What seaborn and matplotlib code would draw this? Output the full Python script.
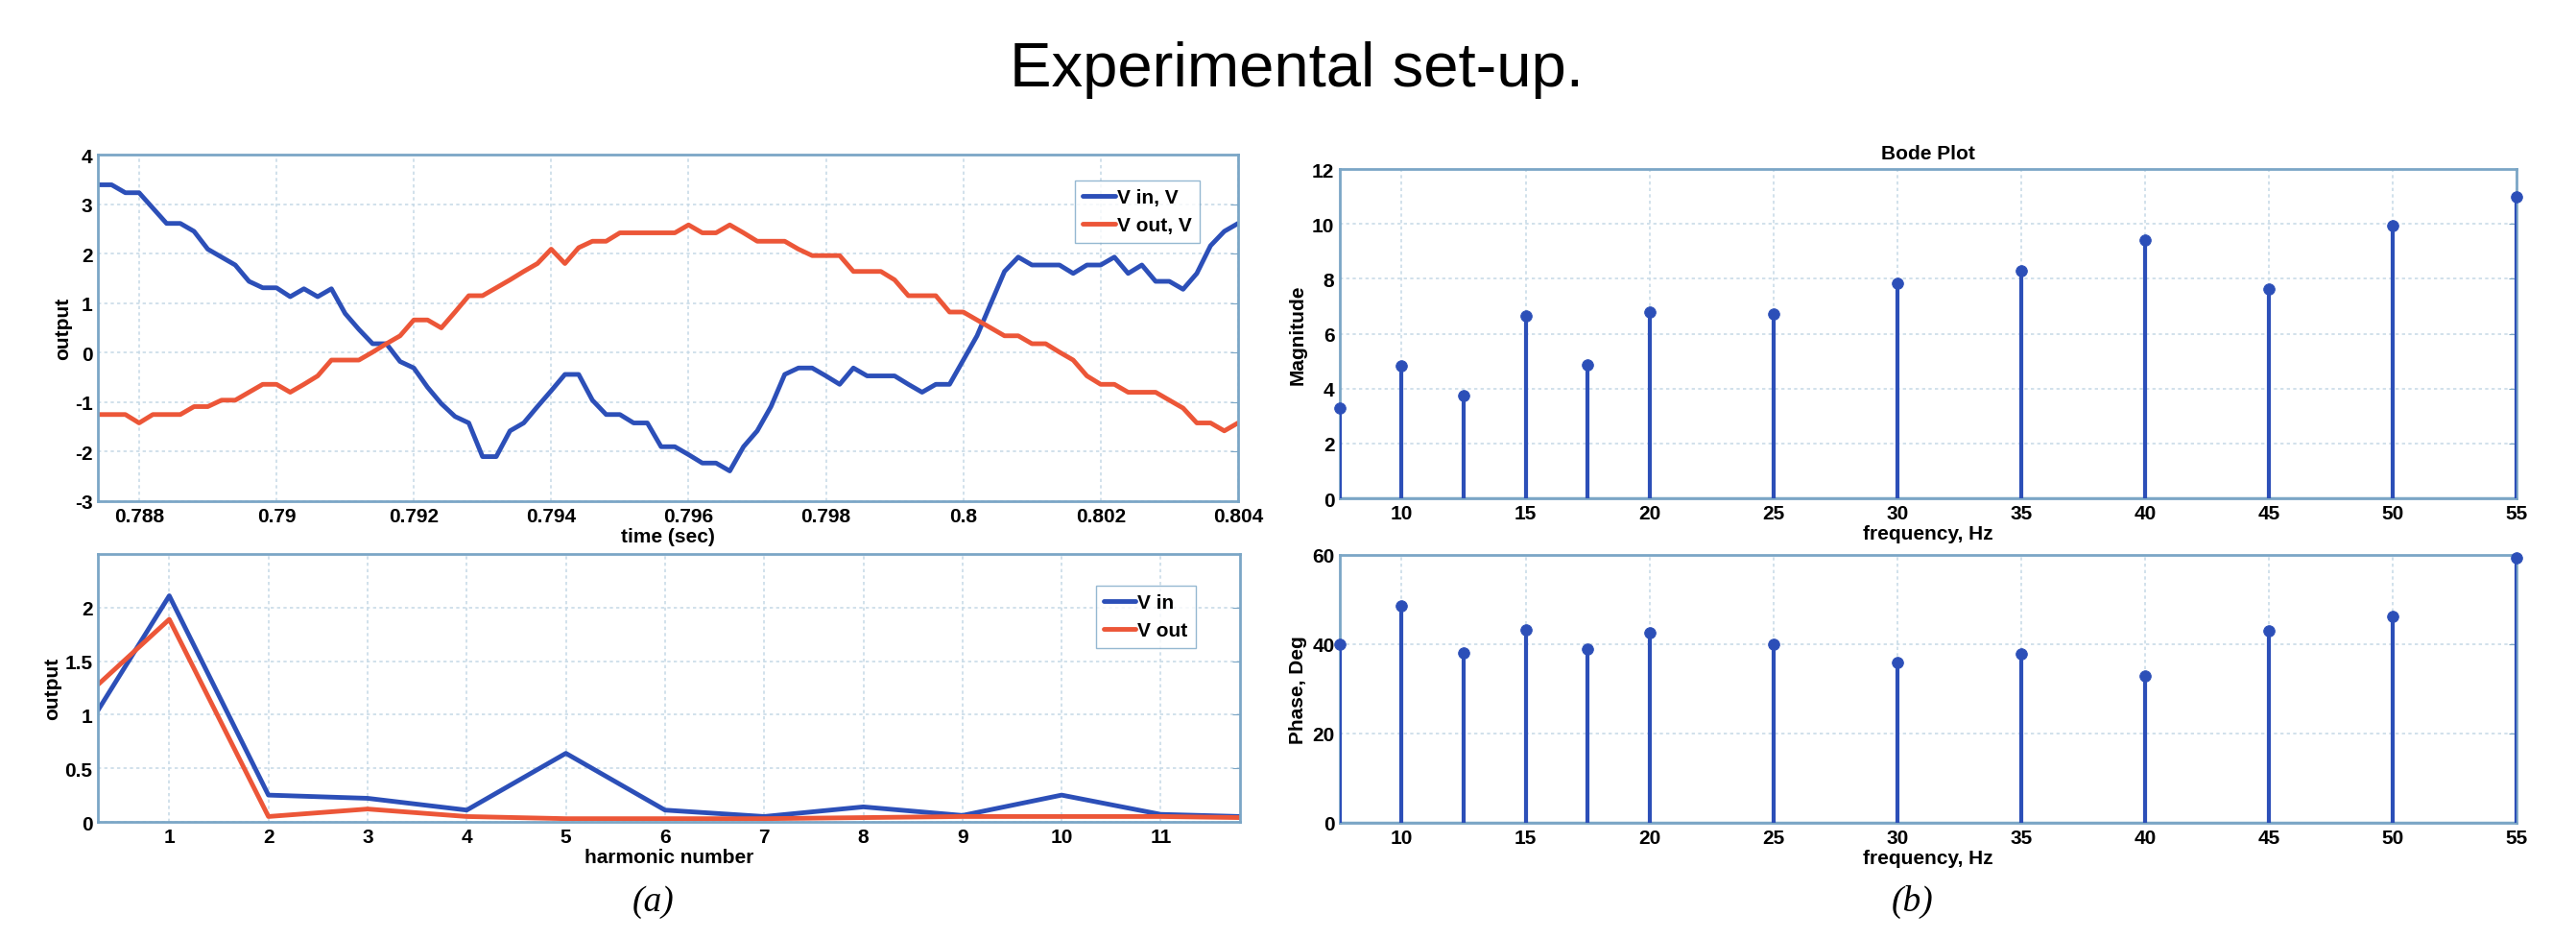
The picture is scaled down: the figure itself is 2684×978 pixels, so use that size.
import seaborn as sns
import matplotlib.pyplot as plt
import pandas as pd

# --- data ---
t_sec = [0.7874, 0.7876, 0.7878, 0.7880, 0.7882, 0.7884, 0.7886, 0.7888, 0.7890, 0.7892,
         0.7894, 0.7896, 0.7898, 0.7900, 0.7902, 0.7904, 0.7906, 0.7908, 0.7910, 0.7912,
         0.7914, 0.7916, 0.7918, 0.7920, 0.7922, 0.7924, 0.7926, 0.7928, 0.7930, 0.7932,
         0.7934, 0.7936, 0.7938, 0.7940, 0.7942, 0.7944, 0.7946, 0.7948, 0.7950, 0.7952,
         0.7954, 0.7956, 0.7958, 0.7960, 0.7962, 0.7964, 0.7966, 0.7968, 0.7970, 0.7972,
         0.7974, 0.7976, 0.7978, 0.7980, 0.7982, 0.7984, 0.7986, 0.7988, 0.7990, 0.7992,
         0.7994, 0.7996, 0.7998, 0.8000, 0.8002, 0.8004, 0.8006, 0.8008, 0.8010, 0.8012,
         0.8014, 0.8016, 0.8018, 0.8020, 0.8022, 0.8024, 0.8026, 0.8028, 0.8030, 0.8032,
         0.8034, 0.8036, 0.8038, 0.8040]
v_in = [3.39, 3.39, 3.23, 3.23, 2.92, 2.61, 2.61, 2.45, 2.09, 1.93,
        1.77, 1.44, 1.31, 1.31, 1.13, 1.29, 1.13, 1.29, 0.79, 0.47,
        0.18, 0.18, -0.18, -0.31, -0.70, -1.03, -1.29, -1.42, -2.10, -2.10,
        -1.58, -1.42, -1.09, -0.77, -0.44, -0.44, -0.96, -1.25, -1.25, -1.42,
        -1.42, -1.90, -1.90, -2.06, -2.23, -2.23, -2.39, -1.90, -1.58, -1.09,
        -0.44, -0.31, -0.31, -0.47, -0.64, -0.31, -0.47, -0.47, -0.47, -0.64,
        -0.80, -0.64, -0.64, -0.15, 0.34, 0.99, 1.64, 1.93, 1.77, 1.77,
        1.77, 1.60, 1.77, 1.77, 1.93, 1.60, 1.77, 1.44, 1.44, 1.28,
        1.60, 2.16, 2.45, 2.61]
v_out = [-1.25, -1.25, -1.25, -1.42, -1.25, -1.25, -1.25, -1.09, -1.09, -0.96,
         -0.96, -0.80, -0.64, -0.64, -0.80, -0.64, -0.47, -0.15, -0.15, -0.15,
         0.01, 0.18, 0.34, 0.66, 0.66, 0.50, 0.82, 1.15, 1.15, 1.31,
         1.47, 1.64, 1.80, 2.09, 1.80, 2.12, 2.25, 2.25, 2.42, 2.42,
         2.42, 2.42, 2.42, 2.58, 2.42, 2.42, 2.58, 2.42, 2.25, 2.25,
         2.25, 2.09, 1.96, 1.96, 1.96, 1.64, 1.64, 1.64, 1.47, 1.15,
         1.15, 1.15, 0.82, 0.82, 0.66, 0.50, 0.34, 0.34, 0.18, 0.18,
         0.01, -0.15, -0.47, -0.64, -0.64, -0.80, -0.80, -0.80, -0.96, -1.12,
         -1.42, -1.42, -1.58, -1.42]

harmonic = [0.28, 1, 2, 3, 4, 5, 6, 7, 8, 9, 10, 11, 11.8]
harm_in = [1.04, 2.11, 0.25, 0.22, 0.11, 0.64, 0.11, 0.05, 0.14, 0.06, 0.25, 0.07, 0.05]
harm_out = [1.28, 1.89, 0.05, 0.12, 0.05, 0.03, 0.03, 0.03, 0.04, 0.05, 0.05, 0.05, 0.04]

freq_hz = [7.5, 10, 12.5, 15, 17.5, 20, 25, 30, 35, 40, 45, 50, 55]
magnitude = [3.30, 4.82, 3.73, 6.65, 4.85, 6.80, 6.73, 7.82, 8.28, 9.42, 7.64, 9.92, 10.97]
phase_deg = [40.1, 48.6, 38.1, 43.2, 39.0, 42.5, 39.9, 36.0, 37.9, 32.8, 43.1, 46.2, 59.3]

time_ticks = [0.788, 0.79, 0.792, 0.794, 0.796, 0.798, 0.8, 0.802, 0.804]
time_labels = ['0.788', '0.79', '0.792', '0.794', '0.796', '0.798', '0.8', '0.802', '0.804']

BLUE = '#2c4fb8'
RED = '#ec5638'
FRAME = '#7ba6c6'
GRID = '#c9dbe8'

sns.set_style('white')
plt.rcParams['font.family'] = ['Liberation Sans Narrow', 'Liberation Sans', 'DejaVu Sans']
plt.rcParams['font.weight'] = 'bold'
plt.rcParams['axes.labelweight'] = 'bold'
plt.rcParams['axes.unicode_minus'] = False
plt.rcParams['text.color'] = 'black'
plt.rcParams['axes.labelcolor'] = 'black'
plt.rcParams['xtick.labelcolor'] = 'black'
plt.rcParams['ytick.labelcolor'] = 'black'

fig = plt.figure(figsize=(26.84, 9.79), dpi=100)
ax1 = fig.add_axes([0.0380, 0.4658, 0.4426, 0.3687])
ax2 = fig.add_axes([0.0380, 0.1246, 0.4434, 0.2850])
ax3 = fig.add_axes([0.5201, 0.4688, 0.4568, 0.3504])
ax4 = fig.add_axes([0.5201, 0.1236, 0.4568, 0.2850])

TICK_FS = 15


def style(ax):
    for s in ax.spines.values():
        s.set_color(FRAME)
        s.set_linewidth(2)
    ax.grid(True, color=GRID, linestyle=(0, (2, 2)), linewidth=1.2)
    ax.tick_params(direction='in', length=6, color=FRAME, labelsize=TICK_FS,
                   labelcolor='black', top=False, right=True, pad=4)
    ax.set_axisbelow(True)


# time traces
df_t = pd.DataFrame({'t': t_sec, 'vin': v_in, 'vout': v_out})
sns.lineplot(data=df_t, x='t', y='vin', ax=ax1, color=BLUE, lw=3.5, label='V in, V')
sns.lineplot(data=df_t, x='t', y='vout', ax=ax1, color=RED, lw=3.5, label='V out, V')
ax1.set_xlim(0.7874, 0.804)
ax1.set_ylim(-3, 4)
ax1.set_xticks(time_ticks)
ax1.set_xticklabels(time_labels)
ax1.set_yticks(range(-3, 5))
ax1.set_xlabel('time (sec)', fontsize=TICK_FS, labelpad=2)
ax1.set_ylabel('output', fontsize=TICK_FS, labelpad=2)
style(ax1)
ax1.legend(loc='upper right', bbox_to_anchor=(0.975, 0.955), fontsize=TICK_FS,
           frameon=True, fancybox=False, edgecolor=FRAME, handlelength=1.6,
           handletextpad=0.1, borderpad=0.4, labelspacing=0.5)

# harmonics
df_h = pd.DataFrame({'h': harmonic, 'hin': harm_in, 'hout': harm_out})
sns.lineplot(data=df_h, x='h', y='hin', ax=ax2, color=BLUE, lw=3.5, label='V in')
sns.lineplot(data=df_h, x='h', y='hout', ax=ax2, color=RED, lw=3.5, label='V out')
ax2.set_xlim(0.28, 11.8)
ax2.set_ylim(0, 2.5)
ax2.set_xticks(range(1, 12))
ax2.set_yticks([0, 0.5, 1, 1.5, 2])
ax2.set_yticklabels(['0', '0.5', '1', '1.5', '2'])
ax2.set_xlabel('harmonic number', fontsize=TICK_FS, labelpad=2)
ax2.set_ylabel('output', fontsize=TICK_FS, labelpad=2)
style(ax2)
ax2.legend(loc='upper right', bbox_to_anchor=(0.97, 0.92), fontsize=TICK_FS,
           frameon=True, fancybox=False, edgecolor=FRAME, handlelength=1.6,
           handletextpad=0.1, borderpad=0.4, labelspacing=0.5)


def stem(ax, x, y):
    df = pd.DataFrame({'f': x, 'v': y})
    ax.vlines(df['f'], 0, df['v'], color=BLUE, lw=3, zorder=3)
    sns.scatterplot(data=df, x='f', y='v', ax=ax, color=BLUE, s=70,
                    edgecolor=BLUE, zorder=4, clip_on=False)
    ax.axhline(0, color=FRAME, lw=2.5, zorder=2)


stem(ax3, freq_hz, magnitude)
ax3.set_xlim(7.5, 55)
ax3.set_ylim(0, 12)
ax3.set_xticks(range(10, 56, 5))
ax3.set_yticks(range(0, 13, 2))
ax3.set_title('Bode Plot', fontsize=TICK_FS, fontweight='bold', pad=8)
ax3.set_xlabel('frequency, Hz', fontsize=TICK_FS, labelpad=2)
ax3.set_ylabel('Magnitude', fontsize=TICK_FS, labelpad=4)
style(ax3)

stem(ax4, freq_hz, phase_deg)
ax4.set_xlim(7.5, 55)
ax4.set_ylim(0, 60)
ax4.set_xticks(range(10, 56, 5))
ax4.set_yticks([0, 20, 40, 60])
ax4.set_xlabel('frequency, Hz', fontsize=TICK_FS, labelpad=2)
ax4.set_ylabel('Phase, Deg', fontsize=TICK_FS, labelpad=4)
style(ax4)

fig.text(0.5035, 0.925, 'Experimental set-up.', ha='center', va='center',
         fontsize=47, fontweight='normal', family=['Liberation Sans', 'DejaVu Sans'])
fig.text(0.2537, 0.040, '(a)', ha='center', va='center', fontsize=27,
         style='italic', fontweight='normal', family=['Liberation Serif', 'DejaVu Serif'])
fig.text(0.7422, 0.040, '(b)', ha='center', va='center', fontsize=27,
         style='italic', fontweight='normal', family=['Liberation Serif', 'DejaVu Serif'])

fig.savefig('out.png', dpi=100)
